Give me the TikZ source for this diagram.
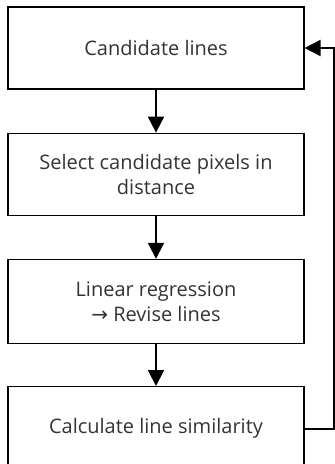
\documentclass[tikz,border=0pt]{standalone}
\usepackage{fontspec}
\setmainfont{Open Sans}
\newfontfamily\symfont{DejaVu Sans}
\usetikzlibrary{positioning,arrows.meta}

\begin{document}
\begin{tikzpicture}[
    x=1pt, y=1pt,
    box/.style={draw, line width=1.2pt, minimum width=296pt, minimum height=82pt, align=center, inner sep=0pt, text=black!80, font=\fontsize{20}{25}\selectfont},
    arrow/.style={-{Triangle[length=16pt,width=16pt]}, line width=2pt}
]
\useasboundingbox (0,0) rectangle (335,-464);
\node[box] (lines) at (156,-48) {Candidate lines};
\node[box, below=43pt of lines] (pixels) {Select candidate pixels in\\distance};
\node[box, minimum height=84pt, below=43pt of pixels] (revise) {Linear regression\\{\symfont →} Revise lines};
\node[box, minimum height=84pt, below=42pt of revise] (similar) {Calculate line similarity};
\draw[arrow] (lines) -- (pixels);
\draw[arrow] (pixels) -- (revise);
\draw[arrow] (revise) -- (similar);
\draw[arrow] (similar.east) -- ++(29pt,0) |- (lines.east);
\end{tikzpicture}
\end{document}
